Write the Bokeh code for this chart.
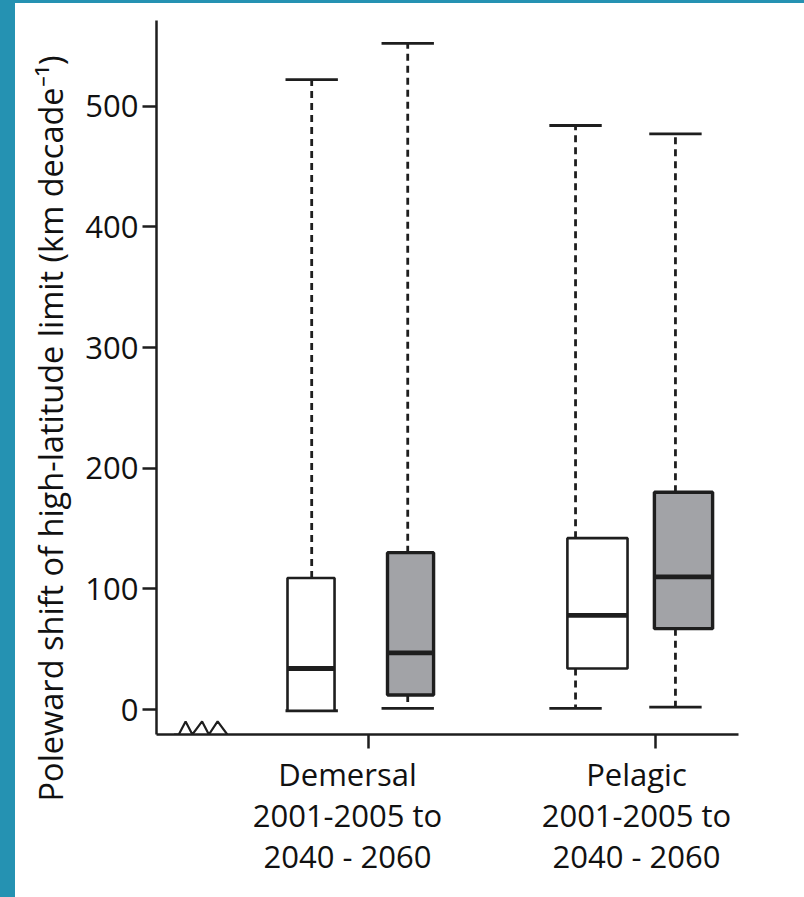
from bokeh.plotting import figure
from bokeh.models import Range1d, FixedTicker, LinearAxis, Title
from bokeh.layouts import column
from bokeh.embed import file_html
from bokeh.resources import INLINE

# ---- data (km per decade) ----
groups = ["Demersal\n2001-2005 to\n2040 - 2060", "Pelagic\n2001-2005 to\n2040 - 2060"]
periods = ["2001-2005", "2040-2060"]
whisker_hi = [522, 552, 484, 477]
q3 = [109, 130, 142, 180]
median = [34, 47, 78, 110]
q1 = [-1, 12, 34, 67]
whisker_lo = [-1, 1, 1, 2]
y_ticks = [0, 100, 200, 300, 400, 500]
y_title = "Poleward shift of high-latitude limit (km decade\u207b\u00b9)"

# ---- layout constants (x in axis units) ----
box_x = [1.593, 2.619, 4.546, 5.433]
whisk_x = [1.600, 2.590, 4.320, 5.350]
box_w = [0.485, 0.475, 0.62, 0.60]
cap_w = 0.54
group_tick_x = [2.186, 5.144]
group_label_x = [1.969, 4.948]
fills = ["white", "#a2a3a7", "white", "#a2a3a7"]
outline_w = [2.6, 3.4, 2.6, 3.4]

FONT = "Open Sans"
INK = "#1e1e1e"
TEAL = "#2592b2"

p = figure(width=789, height=894, output_backend="svg", toolbar_location=None,
           x_range=Range1d(0, 6), y_range=Range1d(-20.7, 571),
           min_border_left=141, min_border_top=17, min_border_right=66, min_border_bottom=163)
p.outline_line_color = None
p.grid.visible = False
p.background_fill_color = "white"
p.border_fill_color = "white"

# y axis
ya = p.yaxis[0]
ya.ticker = FixedTicker(ticks=y_ticks)
ya.axis_line_width = 2.5
ya.axis_line_color = INK
ya.major_tick_line_width = 2.5
ya.major_tick_line_color = INK
ya.major_tick_out = 14
ya.major_tick_in = 0
ya.minor_tick_line_color = None
ya.major_label_text_font = FONT
ya.major_label_text_font_size = "31px"
ya.major_label_text_color = "#111111"
ya.major_label_standoff = 4

# y axis title, as a side title so it can sit below the frame centre like the original
p.add_layout(Title(text=y_title, align="right", offset=35, standoff=20,
                   text_font=FONT, text_font_size="32.5px", text_font_style="normal",
                   text_color="#111111"), "left")

# x axis (tick marks, labels drawn by the axis below)
xa = p.xaxis[0]
xa.ticker = FixedTicker(ticks=group_tick_x)
xa.axis_line_width = 2.5
xa.axis_line_color = INK
xa.major_tick_line_width = 2.5
xa.major_tick_line_color = INK
xa.major_tick_out = 14
xa.major_tick_in = 0
xa.minor_tick_line_color = None
xa.major_label_text_font_size = "2px"
xa.major_label_text_color = None
xa.major_label_standoff = 0

# x axis (group labels)
xl = LinearAxis(ticker=FixedTicker(ticks=group_label_x),
                major_label_overrides={group_label_x[0]: groups[0], group_label_x[1]: groups[1]})
xl.axis_line_color = None
xl.major_tick_line_color = None
xl.minor_tick_line_color = None
xl.major_tick_out = 0
xl.major_tick_in = 0
xl.major_label_text_font = FONT
xl.major_label_text_font_size = "31px"
xl.major_label_text_color = "#111111"
xl.major_label_text_line_height = 0.98
xl.major_label_standoff = 4
p.add_layout(xl, "below")

# whiskers (dashed)
p.segment(x0=whisk_x, y0=q3, x1=whisk_x, y1=whisker_hi, line_color=INK, line_width=2.8, line_dash="7 5")
p.segment(x0=whisk_x, y0=q1, x1=whisk_x, y1=whisker_lo, line_color=INK, line_width=2.8, line_dash="7 5")
# caps
cx0 = [x - cap_w / 2 for x in whisk_x]
cx1 = [x + cap_w / 2 for x in whisk_x]
p.segment(x0=cx0, y0=whisker_hi, x1=cx1, y1=whisker_hi, line_color=INK, line_width=2.8)
p.segment(x0=cx0, y0=whisker_lo, x1=cx1, y1=whisker_lo, line_color=INK, line_width=2.8)
# boxes
bl = [x - w / 2 for x, w in zip(box_x, box_w)]
br = [x + w / 2 for x, w in zip(box_x, box_w)]
p.quad(left=bl, right=br, bottom=q1, top=q3, fill_color=fills, line_color=INK, line_width=outline_w)
# medians
p.segment(x0=bl, y0=median, x1=br, y1=median, line_color=INK, line_width=4.8)

# axis break symbol
zz_x = [0.18, 0.23, 0.30, 0.37, 0.47, 0.54, 0.63, 0.73]
zz_y = [-20.7, -20.7, -9.9, -20.7, -9.9, -20.7, -9.9, -20.7]
p.line(zz_x, zz_y, line_color=INK, line_width=2.2)

layout = column(p, width=804, height=897,
                styles={"background-color": "white",
                        "border-left": "15px solid " + TEAL, "border-top": "3px solid " + TEAL,
                        "box-sizing": "border-box"})

open("out.html", "w").write(file_html(layout, INLINE))
